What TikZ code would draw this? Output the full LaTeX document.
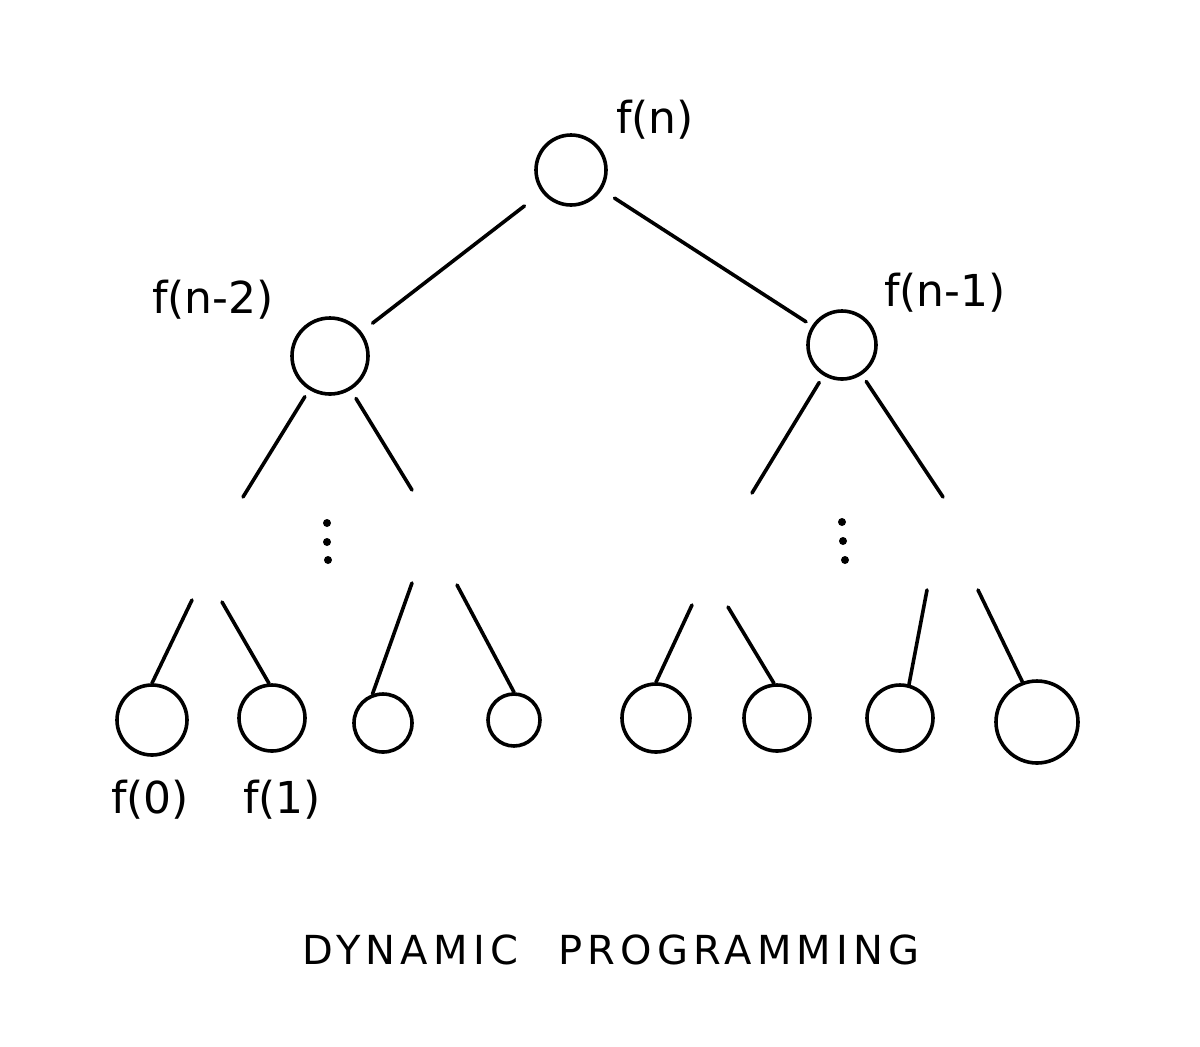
\documentclass[tikz,border=0pt]{standalone}
\usepackage{fontspec}
\setmainfont{DejaVu Sans}
\newfontfamily\titlefont[LetterSpace=13]{DejaVu Sans}
\begin{document}
\begin{tikzpicture}[x=0.5pt,y=-0.5pt, line width=1.8pt, line cap=round, line join=round,
  ball/.style={draw, circle, inner sep=0pt, minimum size=#1},
  lbl/.style={font=\fontsize{22}{26}\selectfont, inner sep=0pt},
  dotm/.style={circle, fill, inner sep=0pt, minimum size=4pt}]
\useasboundingbox (0,0) rectangle (1200,1046);
% main nodes
\node[ball=35pt] (root) at (571,170) {};
\node[ball=38pt] (L) at (330,356) {};
\node[ball=34pt] (R) at (842,345) {};
% leaves
\node[ball=35pt] (l1) at (152,720) {};
\node[ball=33pt] (l2) at (272,718) {};
\node[ball=29pt] (l3) at (383,723) {};
\node[ball=26pt] (l4) at (514,720) {};
\node[ball=34pt] (l5) at (656,718) {};
\node[ball=33pt] (l6) at (777,718) {};
\node[ball=33pt] (l7) at (900,718) {};
\node[ball=41pt] (l8) at (1037,722) {};
% labels
\node[lbl] (tn) at (655,120) {f(n)};
\node[lbl] (tn2) at (213,300) {f(n-2)};
\node[lbl] (tn1) at (945,293) {f(n-1)};
\node[lbl] (t0) at (150,800) {f(0)};
\node[lbl] (t1) at (282,800) {f(1)};
\node[font=\titlefont\fontsize{20}{24}\selectfont, inner sep=0pt] (title) at (611,950) {DYNAMIC\hspace{20pt}PROGRAMMING};
% dots
\node[dotm] (d1) at (327,523) {};
\node[dotm] (d2) at (327,542) {};
\node[dotm] (d3) at (328,560) {};
\node[dotm] (e1) at (842,522) {};
\node[dotm] (e2) at (843,541) {};
\node[dotm] (e3) at (845,560) {};
% free ends
\coordinate (a1) at (243,497);
\coordinate (a2) at (412,490);
\coordinate (b1) at (752,493);
\coordinate (b2) at (943,497);
\coordinate (s1) at (192,600);
\coordinate (s2) at (222,602);
\coordinate (s3) at (412,583);
\coordinate (s4) at (457,585);
\coordinate (s5) at (692,605);
\coordinate (s6) at (728,607);
\coordinate (s7) at (927,590);
\coordinate (s8) at (978,590);
% connectors
\draw[shorten <=11pt, shorten >=7pt] (root) -- (L);
\draw[shorten <=7.5pt, shorten >=3.5pt] (root) -- (R);
\draw[shorten <=4pt] (L) -- (a1);
\draw[shorten <=5pt] (L) -- (a2);
\draw[shorten <=4pt] (R) -- (b1);
\draw[shorten <=4pt] (R) -- (b2);
\draw (s1) -- (l1.north);
\draw (s2) -- (l2.95);
\draw (s3) -- (l3.110);
\draw (s4) -- (l4.north);
\draw (s5) -- (l5.north);
\draw (s6) -- (l6.95);
\draw (s7) -- (l7.75);
\draw (s8) -- (l8.110);
\end{tikzpicture}
\end{document}
